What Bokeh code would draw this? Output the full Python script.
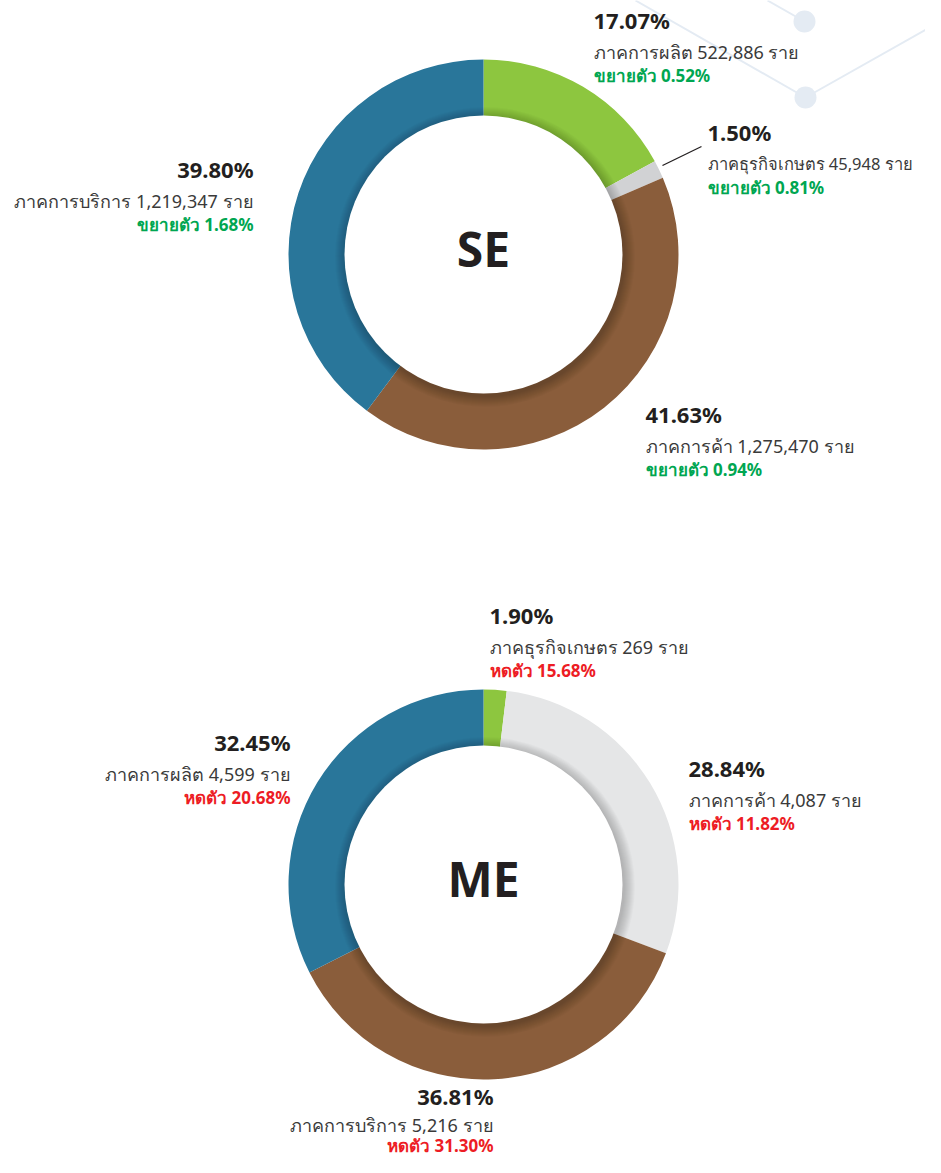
import math
from bokeh.plotting import figure
from bokeh.models import Range1d
from bokeh.core.properties import value
from bokeh.embed import file_html
from bokeh.resources import INLINE

# ---------------- data ----------------
se_sectors = ["ภาคการผลิต", "ภาคธุรกิจเกษตร", "ภาคการค้า", "ภาคการบริการ"]
se_share = [17.07, 1.50, 41.63, 39.80]
se_count = ["522,886", "45,948", "1,275,470", "1,219,347"]
se_growth_word = ["ขยายตัว", "ขยายตัว", "ขยายตัว", "ขยายตัว"]
se_growth = [0.52, 0.81, 0.94, 1.68]

me_sectors = ["ภาคธุรกิจเกษตร", "ภาคการค้า", "ภาคการบริการ", "ภาคการผลิต"]
me_share = [1.90, 28.84, 36.81, 32.45]
me_count = ["269", "4,087", "5,216", "4,599"]
me_growth_word = ["หดตัว", "หดตัว", "หดตัว", "หดตัว"]
me_growth = [15.68, 11.82, 31.30, 20.68]

# ---------------- styles ----------------
SE_COLORS = ["#8DC63F", "#D1D2D4", "#8A5D3B", "#29769A"]
ME_COLORS = ["#8DC63F", "#E5E6E7", "#8A5D3B", "#29769A"]
DARK = "#231F20"
LABEL = "#3A3A3A"
GREEN = "#00A651"
RED = "#ED1C24"
FONT = "Noto Sans"

W, H = 925, 1157
p = figure(width=W, height=H, output_backend="svg", toolbar_location=None,
           x_range=Range1d(0, W), y_range=Range1d(-H, 0),
           min_border=0, match_aspect=False)
p.axis.visible = False
p.grid.visible = False
p.outline_line_color = None
p.background_fill_color = "white"
p.border_fill_color = "white"

# decorative network in the top-right corner
deco = "#E4EBF3"
p.line([767, 804], [0, -21], line_color=deco, line_width=2)
p.line([635, 805], [0, -97], line_color=deco, line_width=2)
p.line([805, 945], [-97, -18], line_color=deco, line_width=2)
p.scatter([804, 805], [-21, -97], size=22, fill_color=deco, line_color=None)

R_OUT, R_IN = 195, 139


def donut(cx, cy, shares, colors, title):
    y = -cy
    total = sum(shares)
    cum = 0.0
    starts, ends = [], []
    for s in shares:
        starts.append(math.pi / 2 - 2 * math.pi * cum / total)
        cum += s
        ends.append(math.pi / 2 - 2 * math.pi * cum / total)
    n = len(shares)
    p.annular_wedge(x=[cx] * n, y=[y] * n, inner_radius=R_IN - 2, outer_radius=R_OUT,
                    start_angle=starts, end_angle=ends, direction="clock",
                    fill_color=colors, line_color=None)
    # soft shadow of the white centre
    for k in range(1, 12):
        p.circle(x=[cx + 1.5], y=[y - 2.5], radius=R_IN + k, fill_color="black",
                 fill_alpha=0.018, line_color=None)
    p.circle(x=[cx], y=[y], radius=R_IN, fill_color="white", line_color=None)
    p.text(x=[cx], y=[y + 6], text=[title], text_font=value(FONT), text_font_style="bold",
           text_font_size="48px", text_color=DARK, text_align="center",
           text_baseline="middle")


donut(483, 254, se_share, SE_COLORS, "SE")
donut(483, 884, me_share, ME_COLORS, "ME")


def label(x, y, share, sector, count, word, growth, color, align,
          d1=32, d2=56, fs="18px"):
    p.text(x=[x], y=[-y], text=[f"{share:.2f}%"], text_font=value(FONT),
           text_font_style="bold", text_font_size="22px", text_color=DARK,
           text_align=align, text_baseline="middle")
    p.text(x=[x], y=[-(y + d1)], text=[f"{sector} {count} ราย"], text_font=value(FONT),
           text_font_size=fs, text_color=LABEL, text_align=align,
           text_baseline="middle")
    p.text(x=[x], y=[-(y + d2)], text=[f"{word} {growth:.2f}%"], text_font=value(FONT),
           text_font_style="bold", text_font_size="17px", text_color=color,
           text_align=align, text_baseline="middle")


# SE labels
se_pos = [(593, 19, "left"), (707, 131, "left"), (645, 413, "left"), (253, 168, "right")]
for i in range(4):
    x, y, a = se_pos[i]
    label(x, y, se_share[i], se_sectors[i], se_count[i], se_growth_word[i],
          se_growth[i], GREEN, a, fs=("16.5px" if i == 1 else "18px"))
# leader line for the small slice
p.line([662, 701], [-165, -146], line_color=DARK, line_width=1.3)

# ME labels
me_pos = [(489, 614, "left"), (688, 767, "left"), (493, 1095, "right"), (290, 741, "right")]
for i in range(4):
    x, y, a = me_pos[i]
    if i == 2:
        label(x, y, me_share[i], me_sectors[i], me_count[i], me_growth_word[i],
              me_growth[i], RED, a, 29, 50)
    else:
        label(x, y, me_share[i], me_sectors[i], me_count[i], me_growth_word[i],
              me_growth[i], RED, a)

open("out.html", "w").write(file_html(p, INLINE))
